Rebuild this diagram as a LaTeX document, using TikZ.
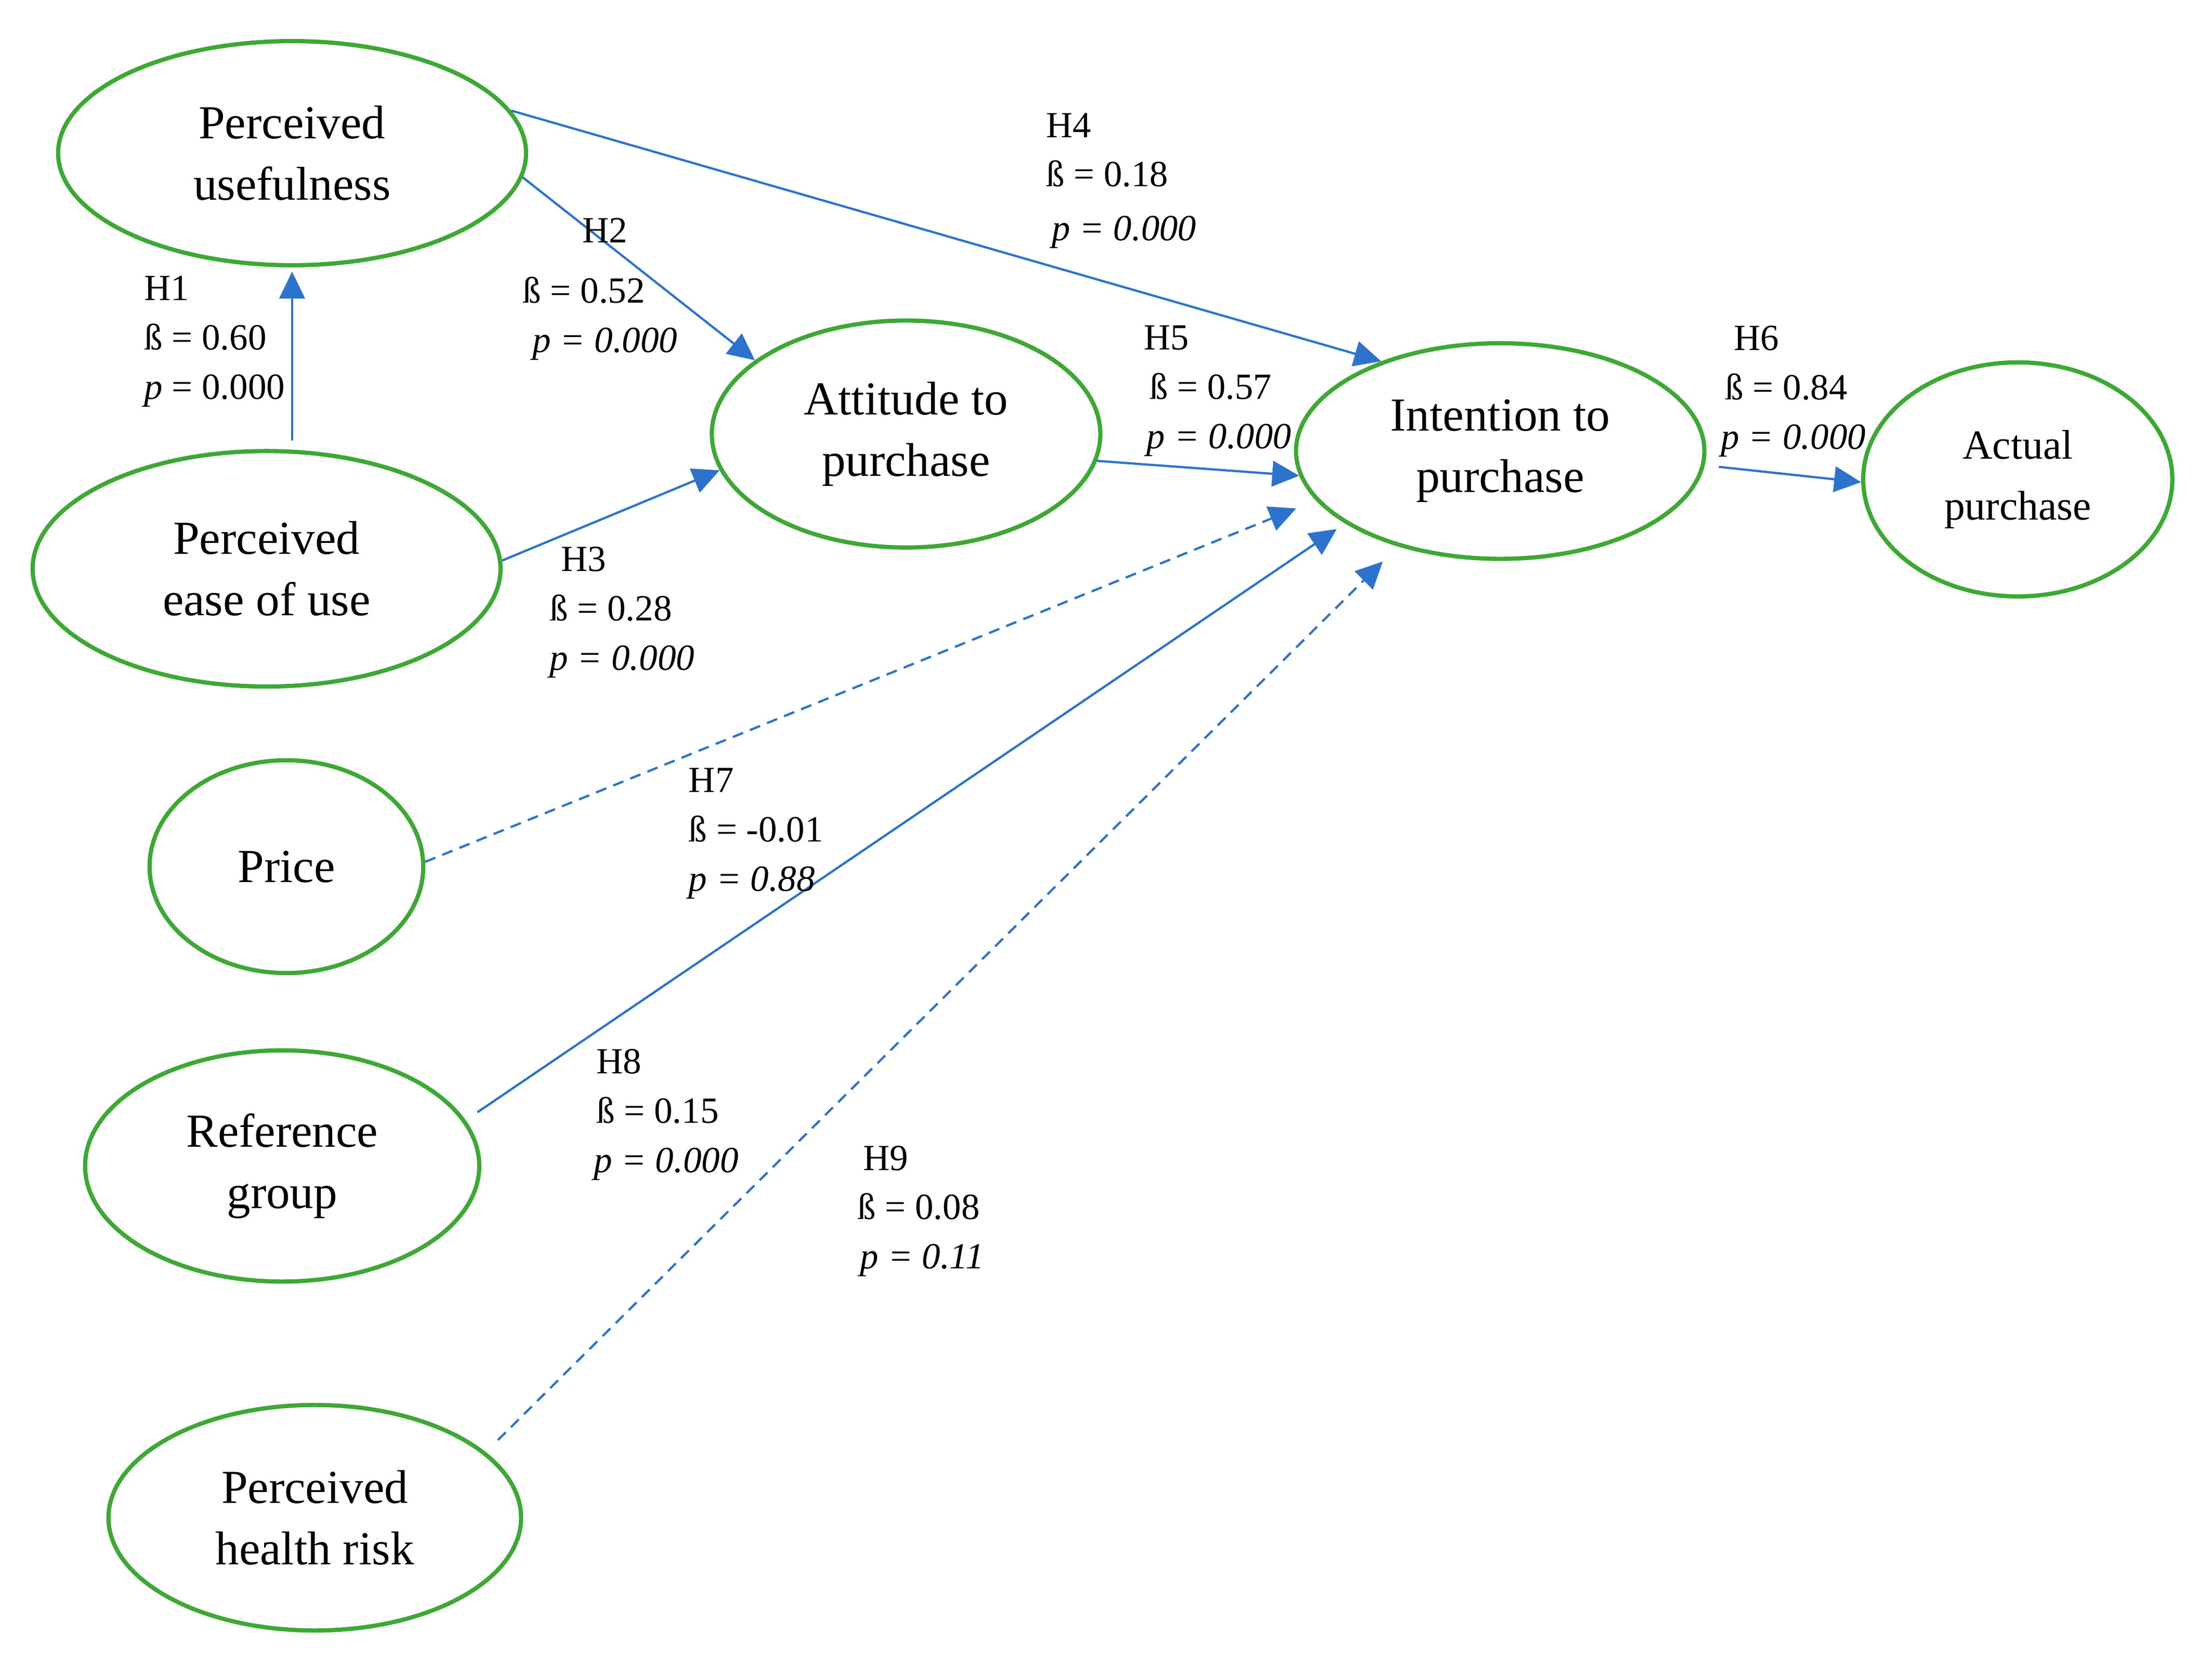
\documentclass[tikz,border=0pt]{standalone}
\usepackage{fontspec}
\setmainfont{Liberation Serif}
\usetikzlibrary{shapes.geometric, arrows.meta}
\definecolor{ringgreen}{RGB}{62,168,52}
\definecolor{pathblue}{RGB}{45,115,205}
\tikzstyle{construct} = [ellipse, draw=ringgreen, line width=0.85pt, inner sep=0pt, align=center, font=\fontsize{9.5}{12.3}\selectfont]
\tikzstyle{arrow} = [line width=0.45pt, draw=pathblue, -{Triangle[length=1.9mm,width=1.8mm]}]
\tikzstyle{weak} = [arrow, dash pattern=on 2.2pt off 1.5pt]
\tikzstyle{note} = [anchor=north west, align=left, inner sep=0pt, font=\fontsize{7.4}{9.9}\selectfont]

\begin{document}
\begin{tikzpicture}[node distance=2cm]
\useasboundingbox (0,0) rectangle (15.6,11.7);

% Constructs
\node (pu) [construct, minimum width=3.30cm, minimum height=1.58cm] at (2.06,10.62) {Perceived\\usefulness};
\node (peu) [construct, minimum width=3.30cm, minimum height=1.66cm, below of=pu, xshift=-0.18cm, yshift=-0.93cm] {Perceived\\ease of use};
\node (price) [construct, minimum width=1.93cm, minimum height=1.50cm, below of=peu, xshift=0.14cm, yshift=-0.10cm] {Price};
\node (ref) [construct, minimum width=2.78cm, minimum height=1.63cm, below of=price, xshift=-0.03cm, yshift=-0.11cm] {Reference\\group};
\node (risk) [construct, minimum width=2.91cm, minimum height=1.59cm, below of=ref, xshift=0.23cm, yshift=-0.48cm] {Perceived\\health risk};
\node (att) [construct, minimum width=2.74cm, minimum height=1.60cm, right of=peu, xshift=2.51cm, yshift=0.95cm] {Attitude to\\purchase};
\node (int) [construct, minimum width=2.88cm, minimum height=1.52cm, right of=att, xshift=2.19cm, yshift=-0.12cm] {Intention to\\purchase};
\node (act) [construct, minimum width=2.18cm, minimum height=1.65cm, right of=int, xshift=1.65cm, yshift=-0.20cm, font=\fontsize{8.3}{12.3}\selectfont] {Actual\\purchase};

% Paths
\draw [arrow, shorten <=0.06cm, shorten >=0.03cm] (peu.north -| pu.south) -- (pu.south);
\draw [arrow] (pu.-6) -- (att.154);
\draw [arrow] (pu.11) -- (int.143);
\draw [arrow] (peu.2) -- (att.191);
\draw [arrow] (att.-8) -- (int.187);
\draw [arrow, shorten <=0.1cm] (int.-4) -- (act.181);
\draw [weak, shorten >=0.15cm] (price.2) -- (int.195);
\draw [arrow, shorten <=0.1cm, shorten >=0.07cm] (ref.14) -- (int.205);
\draw [weak, shorten <=0.12cm, shorten >=0.15cm] (risk.21) -- (int.223);

% Coefficients
\node (h1) [note] at (1.01,9.76) {H1\\ß = 0.60\\\textit{p} = 0.000};
\node (h2) [note] at (3.68,10.17) {\hspace*{0.42cm}H2\\[0.08cm]ß = 0.52\\\hspace*{0.07cm}\textit{p = 0.000}};
\node (h3) [note] at (3.87,7.85) {\hspace*{0.08cm}H3\\ß = 0.28\\\textit{p = 0.000}};
\node (h4) [note] at (7.37,10.91) {H4\\ß = 0.18\\[0.03cm]\hspace*{0.04cm}\textit{p = 0.000}};
\node (h5) [note] at (8.06,9.41) {H5\\\hspace*{0.04cm}ß = 0.57\\\hspace*{0.02cm}\textit{p = 0.000}};
\node (h6) [note] at (12.13,9.41) {\hspace*{0.09cm}H6\\\hspace*{0.03cm}ß = 0.84\\\textit{p = 0.000}};
\node (h7) [note] at (4.85,6.29) {H7\\ß = -0.01\\\textit{p = 0.88}};
\node (h8) [note] at (4.18,4.31) {\hspace*{0.02cm}H8\\\hspace*{0.02cm}ß = 0.15\\\textit{p = 0.000}};
\node (h9) [note] at (6.04,3.63) {\hspace*{0.04cm}H9\\ß = 0.08\\\hspace*{0.02cm}\textit{p = 0.11}};

\end{tikzpicture}
\end{document}
